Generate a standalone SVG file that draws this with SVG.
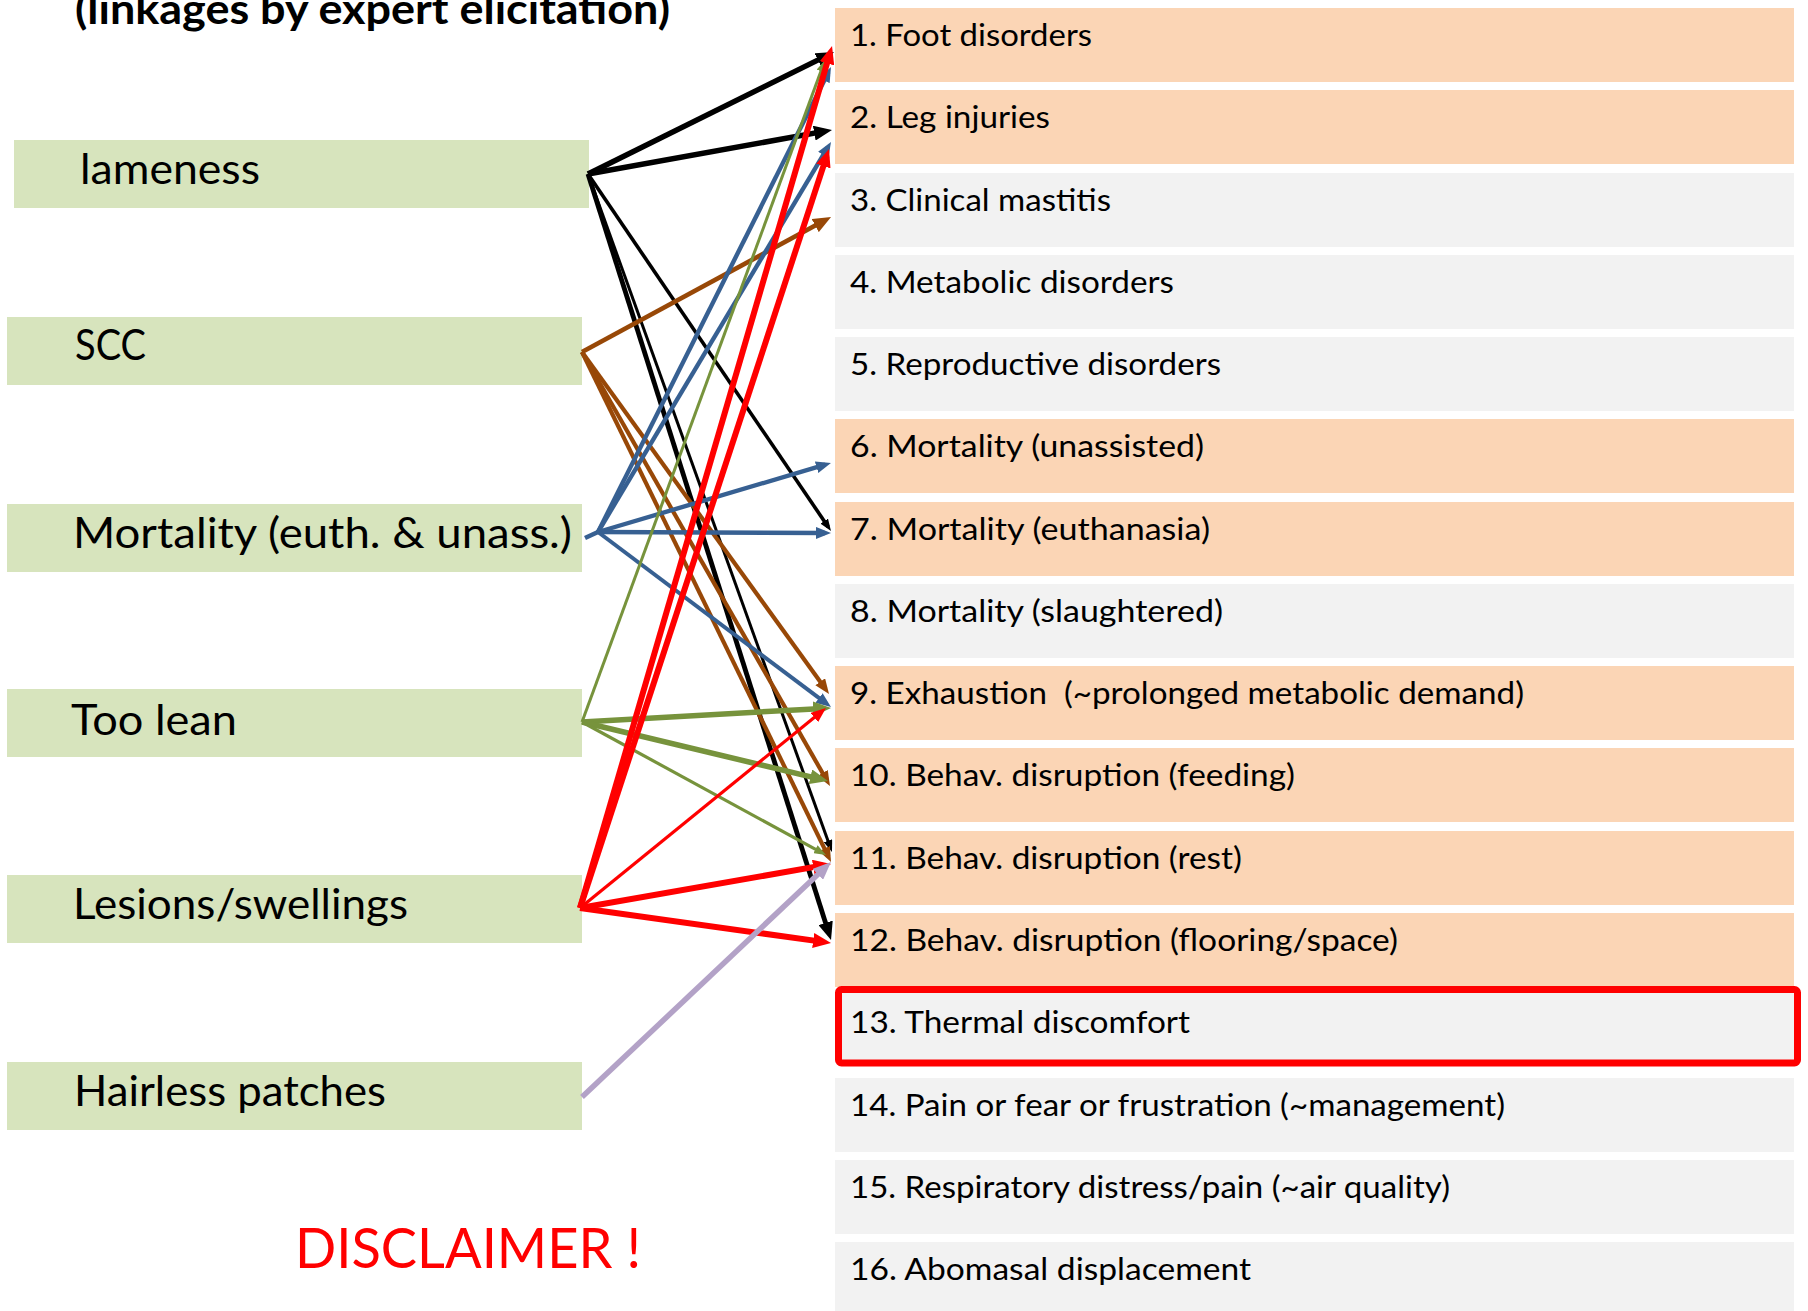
<svg xmlns="http://www.w3.org/2000/svg" width="1808" height="1311" viewBox="0 0 1808 1311">
<style>
.lbox{fill:#D7E4BD}
.ltxt{font-family:Lato,"Open Sans","Liberation Sans",sans-serif;font-size:42px;fill:#000}
.ob{fill:#FBD5B5}
.gb{fill:#F2F2F2}
.rtxt{font-family:Lato,"Open Sans","Liberation Sans",sans-serif;font-size:31px;fill:#000}
.title{font-family:Lato,"Open Sans","Liberation Sans",sans-serif;font-size:42px;font-weight:bold;fill:#000}
.disc{font-family:Lato,"Open Sans","Liberation Sans",sans-serif;font-size:57px;fill:#FF0000}
.c{fill:none;stroke-linecap:butt}
.k{stroke:#000}
.br{stroke:#984807}
.bl{stroke:#376092}
.gr{stroke:#77933C}
.rd{stroke:#FF0000}
.li{stroke:#B3A2C7}
</style>
<defs>
<marker id="k-big" viewBox="0 0 18 15" markerWidth="18" markerHeight="15" refX="10" refY="7.5" orient="auto" markerUnits="userSpaceOnUse"><path d="M0,0 L18,7.5 L0,15 z" fill="#000"/></marker>
<marker id="k-sm" viewBox="0 0 12 9" markerWidth="12" markerHeight="9" refX="7" refY="4.5" orient="auto" markerUnits="userSpaceOnUse"><path d="M0,0 L12,4.5 L0,9 z" fill="#000"/></marker>
<marker id="br-big" viewBox="0 0 18 15" markerWidth="18" markerHeight="15" refX="10" refY="7.5" orient="auto" markerUnits="userSpaceOnUse"><path d="M0,0 L18,7.5 L0,15 z" fill="#984807"/></marker>
<marker id="br-md" viewBox="0 0 15 12" markerWidth="15" markerHeight="12" refX="9" refY="6" orient="auto" markerUnits="userSpaceOnUse"><path d="M0,0 L15,6 L0,12 z" fill="#984807"/></marker>
<marker id="bl-md" viewBox="0 0 15 12" markerWidth="15" markerHeight="12" refX="9" refY="6" orient="auto" markerUnits="userSpaceOnUse"><path d="M0,0 L15,6 L0,12 z" fill="#376092"/></marker>
<marker id="gr-big" viewBox="0 0 18 15" markerWidth="18" markerHeight="15" refX="10" refY="7.5" orient="auto" markerUnits="userSpaceOnUse"><path d="M0,0 L18,7.5 L0,15 z" fill="#77933C"/></marker>
<marker id="gr-sm" viewBox="0 0 12 9" markerWidth="12" markerHeight="9" refX="7" refY="4.5" orient="auto" markerUnits="userSpaceOnUse"><path d="M0,0 L12,4.5 L0,9 z" fill="#77933C"/></marker>
<marker id="rd-big" viewBox="0 0 18 15" markerWidth="18" markerHeight="15" refX="10" refY="7.5" orient="auto" markerUnits="userSpaceOnUse"><path d="M0,0 L18,7.5 L0,15 z" fill="#FF0000"/></marker>
<marker id="rd-md" viewBox="0 0 15 12" markerWidth="15" markerHeight="12" refX="9" refY="6" orient="auto" markerUnits="userSpaceOnUse"><path d="M0,0 L15,6 L0,12 z" fill="#FF0000"/></marker>
<marker id="li-big" viewBox="0 0 18 15" markerWidth="18" markerHeight="15" refX="10" refY="7.5" orient="auto" markerUnits="userSpaceOnUse"><path d="M0,0 L18,7.5 L0,15 z" fill="#B3A2C7"/></marker>
</defs>
<rect width="1808" height="1311" fill="#FFFFFF"/>

<text id="title" class="title" x="75" y="24" textLength="595" lengthAdjust="spacingAndGlyphs">(linkages by expert elicitation)</text>

<g id="n-lameness"><rect class="lbox" x="14" y="140" width="575" height="68"/><text class="ltxt" x="80" y="184" textLength="180" lengthAdjust="spacingAndGlyphs">lameness</text></g>
<g id="n-scc"><rect class="lbox" x="7" y="317" width="575" height="68"/><text class="ltxt" x="75" y="360" textLength="71" lengthAdjust="spacingAndGlyphs">SCC</text></g>
<g id="n-mortality"><rect class="lbox" x="7" y="504" width="575" height="68"/><text class="ltxt" x="73" y="548" textLength="499" lengthAdjust="spacingAndGlyphs">Mortality (euth. &amp; unass.)</text></g>
<g id="n-toolean"><rect class="lbox" x="7" y="689" width="575" height="68"/><text class="ltxt" x="71" y="735" textLength="166" lengthAdjust="spacingAndGlyphs">Too lean</text></g>
<g id="n-lesions"><rect class="lbox" x="7" y="875" width="575" height="68"/><text class="ltxt" x="73" y="919" textLength="335" lengthAdjust="spacingAndGlyphs">Lesions/swellings</text></g>
<g id="n-hairless"><rect class="lbox" x="7" y="1062" width="575" height="68"/><text class="ltxt" x="74" y="1106" textLength="312" lengthAdjust="spacingAndGlyphs">Hairless patches</text></g>

<g id="r1"><rect class="ob" x="835" y="8" width="959" height="74"/><text class="rtxt" x="850" y="46" textLength="242" lengthAdjust="spacingAndGlyphs">1. Foot disorders</text></g>
<g id="r2"><rect class="ob" x="835" y="90" width="959" height="74"/><text class="rtxt" x="850" y="128" textLength="200" lengthAdjust="spacingAndGlyphs">2. Leg injuries</text></g>
<g id="r3"><rect class="gb" x="835" y="173" width="959" height="74"/><text class="rtxt" x="850" y="211" textLength="261" lengthAdjust="spacingAndGlyphs">3. Clinical mastitis</text></g>
<g id="r4"><rect class="gb" x="835" y="255" width="959" height="74"/><text class="rtxt" x="850" y="293" textLength="324" lengthAdjust="spacingAndGlyphs">4. Metabolic disorders</text></g>
<g id="r5"><rect class="gb" x="835" y="337" width="959" height="74"/><text class="rtxt" x="850" y="375" textLength="371" lengthAdjust="spacingAndGlyphs">5. Reproductive disorders</text></g>
<g id="r6"><rect class="ob" x="835" y="419" width="959" height="74"/><text class="rtxt" x="850" y="457" textLength="354" lengthAdjust="spacingAndGlyphs">6. Mortality (unassisted)</text></g>
<g id="r7"><rect class="ob" x="835" y="502" width="959" height="74"/><text class="rtxt" x="850" y="540" textLength="360" lengthAdjust="spacingAndGlyphs">7. Mortality (euthanasia)</text></g>
<g id="r8"><rect class="gb" x="835" y="584" width="959" height="74"/><text class="rtxt" x="850" y="622" textLength="373" lengthAdjust="spacingAndGlyphs">8. Mortality (slaughtered)</text></g>
<g id="r9"><rect class="ob" x="835" y="666" width="959" height="74"/><text class="rtxt" x="850" y="704" textLength="674" lengthAdjust="spacingAndGlyphs" xml:space="preserve">9. Exhaustion  (~prolonged metabolic demand)</text></g>
<g id="r10"><rect class="ob" x="835" y="748" width="959" height="74"/><text class="rtxt" x="850" y="786" textLength="445" lengthAdjust="spacingAndGlyphs">10. Behav. disruption (feeding)</text></g>
<g id="r11"><rect class="ob" x="835" y="831" width="959" height="74"/><text class="rtxt" x="850" y="869" textLength="392" lengthAdjust="spacingAndGlyphs">11. Behav. disruption (rest)</text></g>
<g id="r12"><rect class="ob" x="835" y="913" width="959" height="74"/><text class="rtxt" x="850" y="951" textLength="548" lengthAdjust="spacingAndGlyphs">12. Behav. disruption (flooring/space)</text></g>
<g id="r13"><rect class="gb" x="835" y="989" width="959" height="74"/><rect x="838.5" y="989.5" width="959" height="73.5" rx="3" fill="none" stroke="#FF0000" stroke-width="7"/><text class="rtxt" x="850" y="1033" textLength="340" lengthAdjust="spacingAndGlyphs">13. Thermal discomfort</text></g>
<g id="r14"><rect class="gb" x="835" y="1078" width="959" height="74"/><text class="rtxt" x="850" y="1116" textLength="655" lengthAdjust="spacingAndGlyphs">14. Pain or fear or frustration (~management)</text></g>
<g id="r15"><rect class="gb" x="835" y="1160" width="959" height="74"/><text class="rtxt" x="850" y="1198" textLength="600" lengthAdjust="spacingAndGlyphs">15. Respiratory distress/pain (~air quality)</text></g>
<g id="r16"><rect class="gb" x="835" y="1242" width="959" height="74"/><text class="rtxt" x="850" y="1280" textLength="401" lengthAdjust="spacingAndGlyphs">16. Abomasal displacement</text></g>

<g id="connectors">
<line class="c k" stroke-width="5.5" x1="588" y1="174" x2="826.8" y2="55.6" marker-end="url(#k-big)"/>
<line class="c k" stroke-width="5.5" x1="588" y1="174" x2="824.1" y2="131.4" marker-end="url(#k-big)"/>
<line class="c k" stroke-width="3.6" x1="588" y1="174" x2="828.2" y2="526.9" marker-end="url(#k-sm)"/>
<line class="c k" stroke-width="3" x1="588" y1="174" x2="830.3" y2="847.3" marker-end="url(#k-sm)"/>
<line class="c k" stroke-width="4.8" x1="588" y1="174" x2="828.6" y2="932.4" marker-end="url(#k-big)"/>

<line class="c br" stroke-width="4.6" x1="582" y1="352" x2="824" y2="220.8" marker-end="url(#br-big)"/>
<line class="c br" stroke-width="4.2" x1="582" y1="352" x2="825.5" y2="689.1" marker-end="url(#br-md)"/>
<line class="c br" stroke-width="4.2" x1="582" y1="352" x2="827" y2="780.8" marker-end="url(#br-md)"/>
<line class="c br" stroke-width="4.2" x1="582" y1="352" x2="828.4" y2="856.6" marker-end="url(#br-md)"/>

<line class="c bl" stroke-width="4.6" x1="585" y1="538" x2="598" y2="532"/>
<line class="c bl" stroke-width="4.4" x1="598" y1="532" x2="828.3" y2="72.4" marker-end="url(#bl-md)"/>
<line class="c bl" stroke-width="4.4" x1="598" y1="532" x2="827.9" y2="147.1" marker-end="url(#bl-md)"/>
<line class="c bl" stroke-width="4.4" x1="598" y1="532" x2="825.2" y2="464.7" marker-end="url(#bl-md)"/>
<line class="c bl" stroke-width="4.6" x1="598" y1="532" x2="825" y2="533" marker-end="url(#bl-md)"/>
<line class="c bl" stroke-width="4" x1="598" y1="532" x2="826.2" y2="703.4" marker-end="url(#bl-md)"/>

<line class="c gr" stroke-width="3" x1="582" y1="722" x2="823.3" y2="64.7" marker-end="url(#gr-sm)"/>
<line class="c gr" stroke-width="5.5" x1="582" y1="722" x2="823" y2="708.4" marker-end="url(#gr-big)"/>
<line class="c gr" stroke-width="5.5" x1="582" y1="722" x2="820.2" y2="779.1" marker-end="url(#gr-big)"/>
<line class="c gr" stroke-width="3.2" x1="582" y1="722" x2="821.6" y2="852.6" marker-end="url(#gr-sm)"/>

<line class="c rd" stroke-width="6" x1="580" y1="908" x2="829.8" y2="53.7" marker-end="url(#rd-big)"/>
<line class="c rd" stroke-width="6" x1="580" y1="908" x2="826.5" y2="156.6" marker-end="url(#rd-big)"/>
<line class="c rd" stroke-width="3.2" x1="580" y1="908" x2="821.3" y2="711.8" marker-end="url(#rd-md)"/>
<line class="c rd" stroke-width="6" x1="580" y1="908" x2="823.1" y2="865.4" marker-end="url(#rd-big)"/>
<line class="c rd" stroke-width="6" x1="580" y1="908" x2="823.1" y2="941.9" marker-end="url(#rd-big)"/>

<line class="c li" stroke-width="5.5" x1="582" y1="1097" x2="825.2" y2="867.5" marker-end="url(#li-big)"/>
</g>

<text id="disclaimer" class="disc" x="295" y="1268" textLength="346" lengthAdjust="spacingAndGlyphs">DISCLAIMER !</text>
</svg>
